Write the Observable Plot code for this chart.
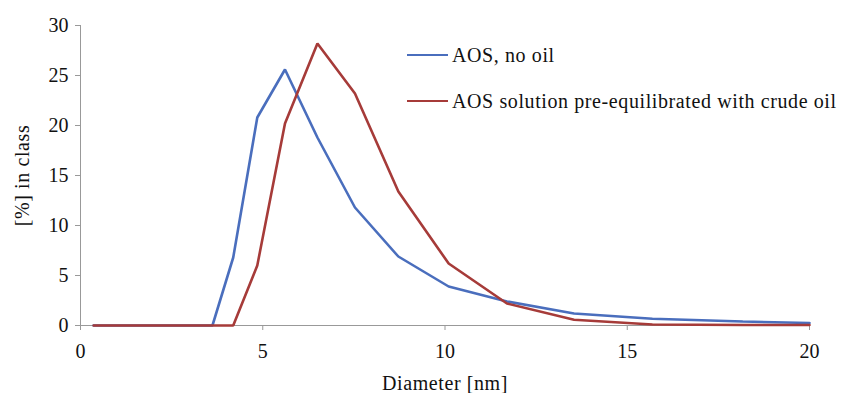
<!DOCTYPE html>
<html>
<head>
<meta charset="utf-8">
<script src="https://cdn.jsdelivr.net/npm/d3@7"></script>
<script src="https://cdn.jsdelivr.net/npm/@observablehq/plot@0.6"></script>
<style>
  html, body { margin: 0; padding: 0; background: #fff; }
  #wrap { position: relative; width: 845px; height: 393px; font-family: 'Liberation Serif'; }
  .leg { position: absolute; display: flex; align-items: center; font-size: 20px; letter-spacing: 0.6px; color: #111; white-space: nowrap; font-family: 'Liberation Serif'; }
  .leg .sw { width: 41px; height: 0; border-top: 2.6px solid; margin-right: 4px; }
</style>
</head>
<body>
<div id="wrap"></div>
<script>
const diameters = [0.36, 1.0, 2.0, 3.62, 4.19, 4.85, 5.61, 6.50, 7.53, 8.72, 10.10, 11.70, 13.54, 15.69, 18.17, 20.0];
const seriesNames = ["AOS, no oil", "AOS solution pre-equilibrated with crude oil"];
const noOil =   [0, 0, 0, 0, 6.8, 20.8, 25.6, 18.8, 11.8, 6.9, 3.9, 2.4, 1.2, 0.67, 0.4, 0.25];
const withOil = [0, 0, 0, 0, 0, 6.0, 20.2, 28.2, 23.2, 13.4, 6.2, 2.2, 0.57, 0.1, 0.05, 0.05];
const colors = ["#4a6ebd", "#a63b39"];
const xTicks = [0, 5, 10, 15, 20];
const yTicks = [0, 5, 10, 15, 20, 25, 30];

const rows = [];
diameters.forEach((d, i) => {
  rows.push({d, v: noOil[i], s: seriesNames[0]});
  rows.push({d, v: withOil[i], s: seriesNames[1]});
});

const chart = Plot.plot({
  width: 845,
  height: 393,
  marginLeft: 80,
  marginRight: 36,
  marginTop: 25,
  marginBottom: 68,
  style: {fontFamily: "Liberation Serif", fontSize: "20px", color: "#111", background: "#fff"},
  x: {domain: [0, 20]},
  y: {domain: [0, 30]},
  color: {domain: seriesNames, range: colors},
  marks: [
    Plot.ruleX([0], {stroke: "#999", strokeWidth: 1}),
    Plot.ruleY([0], {stroke: "#999", strokeWidth: 1}),
    Plot.axisX({ticks: xTicks, tickSize: 5, tickPadding: 13, stroke: "#999", label: "Diameter [nm]", labelAnchor: "center", labelArrow: "none", labelOffset: 64, fontSize: 20}),
    Plot.axisY({ticks: yTicks, tickSize: 5, tickPadding: 7, stroke: "#999", label: "[%] in class", labelAnchor: "center", labelArrow: "none", labelOffset: 66, fontSize: 20}),
    Plot.line(rows, {x: "d", y: "v", z: "s", stroke: "s", strokeWidth: 2.6, strokeLinejoin: "miter"})
  ]
});
const wrap = document.getElementById("wrap");
wrap.appendChild(chart);
chart.querySelectorAll("text").forEach(t => {
  t.setAttribute("font-family", "Liberation Serif");
  t.style.fontFamily = "'Liberation Serif'";
});
chart.querySelectorAll("g[aria-label='x-axis label'] text, g[aria-label='y-axis label'] text").forEach(t => {
  t.style.letterSpacing = "0.6px";
});

const legPos = [[407, 55], [407, 101]];
seriesNames.forEach((name, i) => {
  const el = document.createElement("div");
  el.className = "leg";
  el.style.left = legPos[i][0] + "px";
  el.style.top = (legPos[i][1] - 12) + "px";
  el.style.height = "24px";
  const sw = document.createElement("span");
  sw.className = "sw";
  sw.style.borderTopColor = colors[i];
  const t = document.createElement("span");
  t.textContent = name;
  el.appendChild(sw);
  el.appendChild(t);
  wrap.appendChild(el);
});
</script>
</body>
</html>
